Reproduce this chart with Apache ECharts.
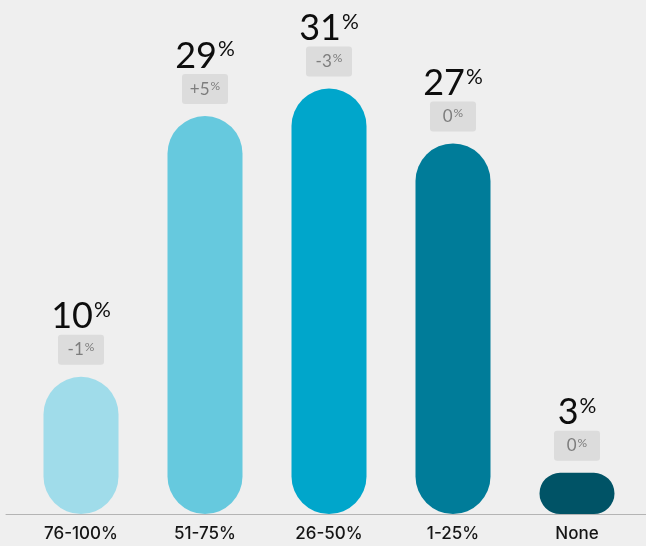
<!DOCTYPE html>
<html>
<head>
<meta charset="utf-8">
<script src="https://cdn.jsdelivr.net/npm/echarts@6/dist/echarts.min.js"></script>
<style>
html,body{margin:0;padding:0;background:#efefef;}
#main{width:646px;height:546px;}
</style>
</head>
<body>
<div id="main"></div>
<script>
const categories = ['76-100%', '51-75%', '26-50%', '1-25%', 'None'];
const shares = [10, 29, 31, 27, 3];
const changes = ['-1', '+5', '-3', '0', '0'];
const barColors = ['#a0dcea', '#66c9de', '#00a6cb', '#007c99', '#005366'];

const FONT = 'Lato, "Open Sans", sans-serif';
const chart = echarts.init(document.getElementById('main'));
chart.setOption({
  backgroundColor: '#efefef',
  animation: false,
  grid: [
    { left: 19, right: 7, top: 20, bottom: 32 },
    { left: 6, right: 0, top: 20, bottom: 32 }
  ],
  xAxis: [
    {
      type: 'category', data: categories, gridIndex: 0,
      axisLine: { show: false }, axisTick: { show: false },
      axisLabel: { color: '#151515', fontSize: 17, fontWeight: 500, fontFamily: 'Inter, Lato, sans-serif', margin: 11 }
    },
    {
      type: 'value', gridIndex: 1, min: 0, max: 1,
      axisLine: { show: true, lineStyle: { color: '#b4b4b4', width: 1 } },
      axisTick: { show: false }, axisLabel: { show: false }, splitLine: { show: false }
    }
  ],
  yAxis: [
    { type: 'value', min: 0, max: 36, gridIndex: 0, show: false },
    { type: 'value', min: 0, max: 1, gridIndex: 1, show: false }
  ],
  series: [
    {
      type: 'bar',
      barWidth: 75,
      data: shares.map((v, i) => ({ value: v, itemStyle: { color: barColors[i] } })),
      itemStyle: { borderRadius: 37.5 },
      label: {
        show: true, position: 'top', distance: 42,
        formatter: p => '{n|' + p.value + '}{p|%}',
        rich: {
          n: { fontSize: 36, fontFamily: FONT, color: '#0d0d0d', lineHeight: 38, verticalAlign: 'bottom' },
          p: { fontSize: 21, fontFamily: FONT, color: '#0d0d0d', lineHeight: 21, verticalAlign: 'top', padding: [3, 0, 0, 1] }
        }
      },
      z: 2
    },
    {
      type: 'bar',
      barWidth: 75,
      barGap: '-100%',
      data: shares,
      itemStyle: { color: 'transparent' },
      silent: true,
      label: {
        show: true, position: 'top', distance: 12,
        width: 46, height: 30, align: 'center',
        backgroundColor: '#dcdcdc', borderRadius: 3,
        formatter: p => '{c|' + changes[p.dataIndex] + '}{cp|%}',
        rich: {
          c: { fontSize: 17, fontFamily: FONT, color: '#7d7d7d', lineHeight: 30, verticalAlign: 'middle' },
          cp: { fontSize: 12, fontFamily: FONT, color: '#7d7d7d', lineHeight: 12, verticalAlign: 'top', padding: [6, 0, 0, 1] }
        }
      },
      z: 3
    }
  ]
});
</script>
</body>
</html>
